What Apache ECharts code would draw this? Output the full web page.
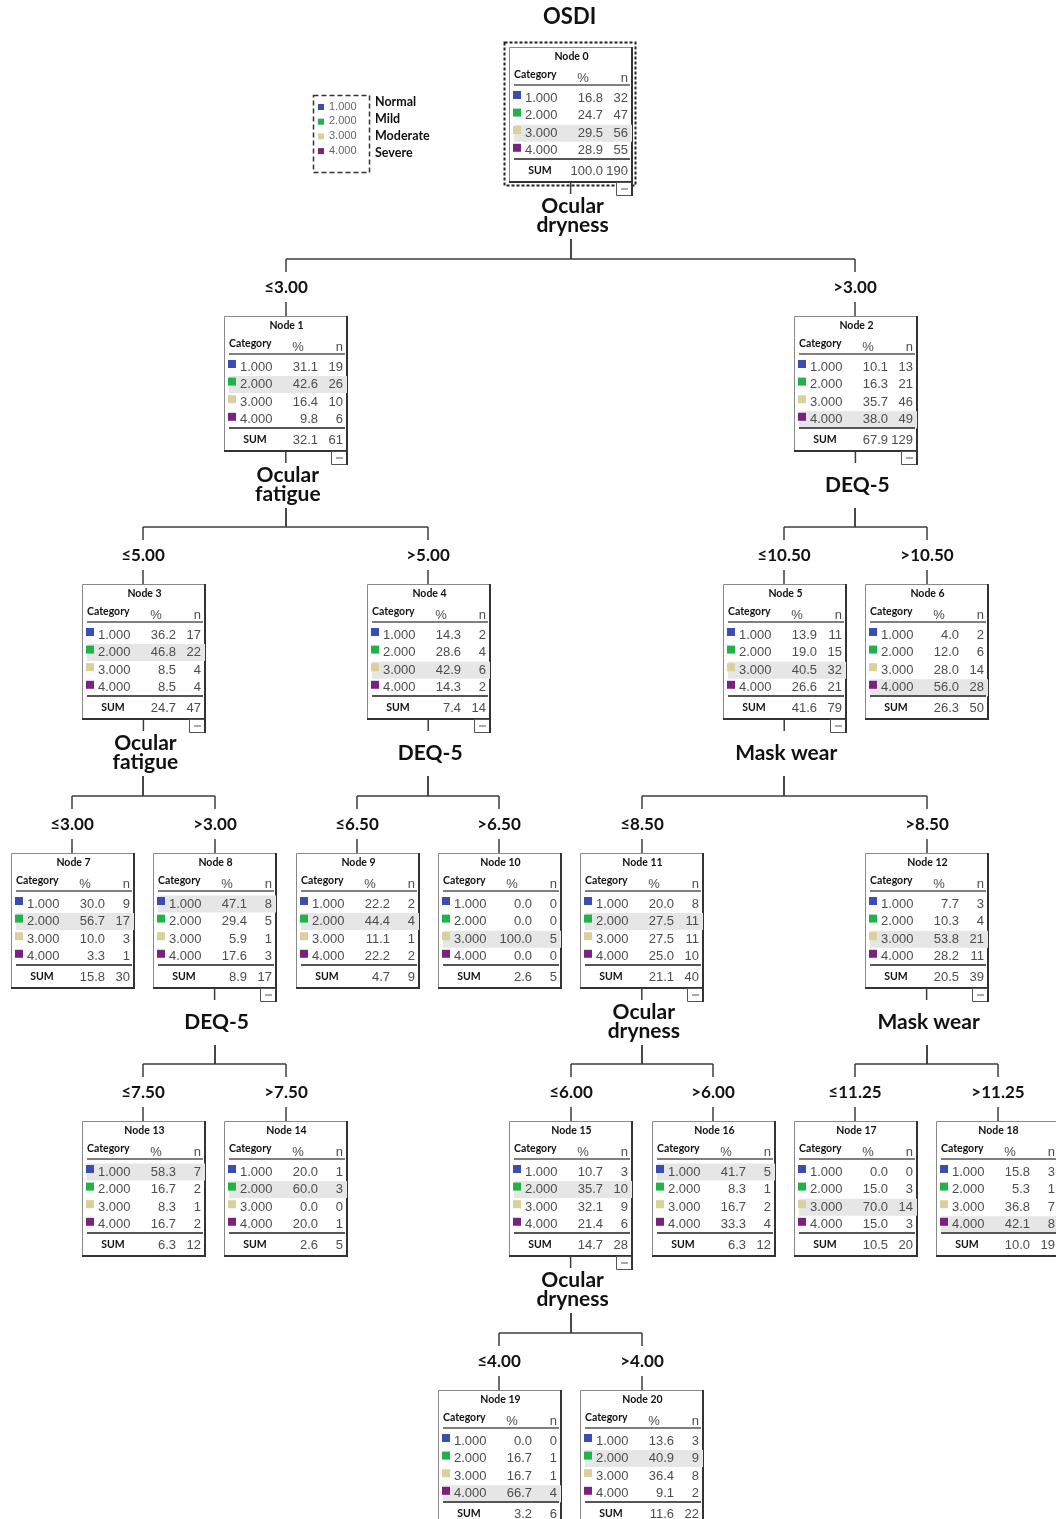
<!DOCTYPE html>
<html><head><meta charset="utf-8">
<script src="https://cdn.jsdelivr.net/npm/echarts@6/dist/echarts.min.js"></script>
<style>html,body{margin:0;padding:0;background:#fff}#chart{width:1056px;height:1519px}</style>
</head><body><div id="chart"></div>
<script>
// ---------------- DATA ----------------
const targetName = 'OSDI';
const categories = ['1.000', '2.000', '3.000', '4.000'];
const severityLabels = ['Normal', 'Mild', 'Moderate', 'Severe'];
const categoryColors = ['#3b4dae', '#22b24a', '#d8d19b', '#7a237e'];

const nodeIds = [0,1,2,3,4,5,6,7,8,9,10,11,12,13,14,15,16,17,18,19,20];
const nodeParent = [-1,0,0,1,1,2,2,3,3,4,4,5,5,8,8,11,11,12,12,15,15];
// tree layout: column slot and depth level of each node
const nodeSlot  = [8,4,12,2,6,11,13,1,3,5,7,9,13,2,4,8,10,12,14,7,9];
const nodeDepth = [0,1,1,2,2,2,2,3,3,3,3,3,3,4,4,4,4,4,4,5,5];
const nodeSplitVar = ['Ocular\ndryness','Ocular\nfatigue','DEQ-5','Ocular\nfatigue','DEQ-5','Mask wear','',
  '','DEQ-5','','','Ocular\ndryness','Mask wear','','','Ocular\ndryness','','','','',''];
const nodeThreshold = ['','≤3.00','>3.00','≤5.00','>5.00','≤10.50','>10.50','≤3.00','>3.00','≤6.50','>6.50',
  '≤8.50','>8.50','≤7.50','>7.50','≤6.00','>6.00','≤11.25','>11.25','≤4.00','>4.00'];
const nodePct = [
  [16.8,24.7,29.5,28.9],[31.1,42.6,16.4,9.8],[10.1,16.3,35.7,38.0],[36.2,46.8,8.5,8.5],
  [14.3,28.6,42.9,14.3],[13.9,19.0,40.5,26.6],[4.0,12.0,28.0,56.0],[30.0,56.7,10.0,3.3],
  [47.1,29.4,5.9,17.6],[22.2,44.4,11.1,22.2],[0.0,0.0,100.0,0.0],[20.0,27.5,27.5,25.0],
  [7.7,10.3,53.8,28.2],[58.3,16.7,8.3,16.7],[20.0,60.0,0.0,20.0],[10.7,35.7,32.1,21.4],
  [41.7,8.3,16.7,33.3],[0.0,15.0,70.0,15.0],[15.8,5.3,36.8,42.1],[0.0,16.7,16.7,66.7],
  [13.6,40.9,36.4,9.1]];
const nodeN = [
  [32,47,56,55],[19,26,10,6],[13,21,46,49],[17,22,4,4],[2,4,6,2],[11,15,32,21],[2,6,14,28],
  [9,17,3,1],[8,5,1,3],[2,4,1,2],[0,0,5,0],[8,11,11,10],[3,4,21,11],[7,2,1,2],[1,3,0,1],
  [3,10,9,6],[5,1,2,4],[0,3,14,3],[3,1,7,8],[0,1,1,4],[3,9,8,2]];
const nodeSumPct = [100.0,32.1,67.9,24.7,7.4,41.6,26.3,15.8,8.9,4.7,2.6,21.1,20.5,6.3,2.6,14.7,6.3,10.5,10.0,3.2,11.6];
const nodeSumN = [190,61,129,47,14,79,50,30,17,9,5,40,39,12,5,28,12,20,19,6,22];

// ---------------- STYLE ----------------
const LINE = '#3c3c3c';
const NUM_FONT = '13px "Liberation Sans", Arial, sans-serif';
const NUM_COLOR = '#4d4d4d';
const BOLD_SMALL = 'bold 10.5px Lato, "Open Sans", sans-serif';
const BOX_W = 123, BOX_H = 135;

function txt(text, x, y, font, fill, align, valign, extra) {
  const st = Object.assign({ text: text, x: x, y: y, font: font, fill: fill,
    align: align, verticalAlign: valign, textAlign: align, textVerticalAlign: valign }, extra || {});
  return { type: 'text', style: st, z2: 10 };
}
function ln(x1, y1, x2, y2, w, c) {
  return { type: 'line', shape: { x1: x1, y1: y1, x2: x2, y2: y2 }, style: { stroke: c || LINE, lineWidth: w || 1.5 } };
}
function fmt(v) { return v.toFixed(1); }

function hasChildren(i) { return nodeParent.indexOf(i) >= 0; }

function renderNode(params, api) {
  const i = api.value(2);
  const c = api.coord([api.value(0), api.value(1)]);
  const L = Math.round(c[0] - BOX_W / 2), T = Math.round(c[1]);
  const R = L + BOX_W, B = T + BOX_H;
  const ch = [];
  if (nodeParent[i] < 0) {
    ch.push({ type: 'rect', shape: { x: L - 4.5, y: T - 4.5, width: BOX_W + 8, height: BOX_H + 8 },
      style: { fill: null, stroke: '#222', lineWidth: 2, lineDash: [3, 2] } });
    ch.push(txt(targetName, c[0] - 1, T - 30, 'bold 22px Lato, "Open Sans", sans-serif', '#111', 'center', 'middle'));
  }
  ch.push({ type: 'rect', shape: { x: L + 0.5, y: T + 0.5, width: BOX_W, height: BOX_H },
    style: { fill: '#fff', stroke: '#8a8a8a', lineWidth: 1 } });
  ch.push(ln(R, T, R, B + 1, 2, '#333'));
  ch.push(ln(L, B, R + 1, B, 2, '#333'));
  // highlight modal row
  const n = nodeN[i];
  let hi = 0;
  for (let k = 1; k < n.length; k++) if (n[k] > n[hi]) hi = k;
  const rowY = k => T + 51 + k * 17.6;
  ch.push({ type: 'rect', shape: { x: L + 5, y: rowY(hi) - 8.5, width: BOX_W - 5, height: 17 },
    style: { fill: '#e6e6e6' } });
  // title & header
  ch.push(txt('Node ' + nodeIds[i], L + BOX_W / 2 + 1, T + 10, BOLD_SMALL, '#111', 'center', 'middle'));
  ch.push(txt('Category', L + 5, T + 28, BOLD_SMALL, '#111', 'left', 'middle'));
  ch.push(txt('%', L + 74, T + 31, NUM_FONT, NUM_COLOR, 'center', 'middle'));
  ch.push(txt('n', L + 119, T + 31, NUM_FONT, NUM_COLOR, 'right', 'middle'));
  ch.push(ln(L + 5, T + 38, R - 2, T + 38, 1.5, '#555'));
  for (let k = 0; k < categories.length; k++) {
    const y = rowY(k);
    ch.push({ type: 'rect', shape: { x: L + 4, y: y - 7, width: 8, height: 8 }, style: { fill: categoryColors[k] } });
    ch.push(txt(categories[k], L + 16, y, NUM_FONT, NUM_COLOR, 'left', 'middle'));
    ch.push(txt(fmt(nodePct[i][k]), L + 94, y, NUM_FONT, NUM_COLOR, 'right', 'middle'));
    ch.push(txt(String(n[k]), L + 119, y, NUM_FONT, NUM_COLOR, 'right', 'middle'));
  }
  ch.push(ln(L + 5, T + 112, R - 2, T + 112, 2, '#555'));
  ch.push(txt('SUM', L + 31, T + 124, BOLD_SMALL, '#111', 'center', 'middle'));
  ch.push(txt(fmt(nodeSumPct[i]), L + 94, T + 124, NUM_FONT, NUM_COLOR, 'right', 'middle'));
  ch.push(txt(String(nodeSumN[i]), L + 119, T + 124, NUM_FONT, NUM_COLOR, 'right', 'middle'));
  // split variable & collapse icon
  if (hasChildren(i)) {
    ch.push({ type: 'rect', shape: { x: R - 15.5, y: B + 0.5, width: 15, height: 13 },
      style: { fill: '#fff', stroke: '#555', lineWidth: 1 } });
    ch.push(ln(R, B, R, B + 14, 2, '#333'));
    ch.push(ln(R - 11, B + 7, R - 4, B + 7, 1, '#555'));
    ch.push(ln(c[0], B, c[0], B + 12));
    ch.push(txt(nodeSplitVar[i], c[0] + 2, T + 169, 'bold 21px Lato, "Open Sans", sans-serif', '#111', 'center', 'middle',
      { lineHeight: 19 }));
  }
  return { type: 'group', children: ch };
}

function renderEdge(params, api) {
  const c = api.coord([api.value(0), api.value(1)]);
  const p = api.coord([api.value(2), api.value(3)]);
  const i = api.value(4);
  const T = Math.round(c[1]);
  const P = Math.round(p[1]);
  const barY = T - 57;
  const cx = Math.round(c[0]), px = Math.round(p[0]);
  return { type: 'group', children: [
    ln(px, P + 192, px, barY),
    ln(px, barY, cx, barY),
    ln(cx, barY, cx, barY + 13),
    txt(nodeThreshold[i], cx, T - 28, 'bold 17px Lato, "Open Sans", sans-serif', '#111', 'center', 'middle'),
    ln(cx, T - 14, cx, T)
  ] };
}

const nodeData = nodeIds.map(i => [nodeSlot[i], nodeDepth[i], i]);
const edgeData = nodeIds.filter(i => nodeParent[i] >= 0)
  .map(i => [nodeSlot[i], nodeDepth[i], nodeSlot[nodeParent[i]], nodeDepth[nodeParent[i]], i]);

// legend graphic
const legendEls = [{ type: 'rect', left: 311, top: 93, shape: { width: 56, height: 77 },
  style: { fill: null, stroke: '#333', lineWidth: 1.5, lineDash: [5, 3] } }];
categories.forEach((cat, k) => {
  legendEls.push({ type: 'rect', left: 318, top: 104 + k * 14.7, shape: { width: 6, height: 6 },
    style: { fill: categoryColors[k] } });
  legendEls.push({ type: 'text', left: 329, top: 101 + k * 14.7,
    style: { text: cat, font: '11px "Liberation Sans", Arial, sans-serif', fill: '#666' } });
  legendEls.push({ type: 'text', left: 375, top: 95 + k * 17,
    style: { text: severityLabels[k], font: 'bold 12.5px Lato, "Open Sans", sans-serif', fill: '#111' } });
});

const chart = echarts.init(document.getElementById('chart'), null, { renderer: 'canvas' });
chart.setOption({
  backgroundColor: '#fff',
  animation: false,
  grid: { left: 1, right: 0, top: 0, bottom: 0 },
  xAxis: { type: 'value', min: 0, max: 14.817, show: false },
  yAxis: { type: 'value', inverse: true, min: -0.175, max: 5.482, show: false },
  graphic: { elements: legendEls },
  series: [
    { type: 'custom', name: 'edges', renderItem: renderEdge, data: edgeData,
      encode: { x: 0, y: 1 }, silent: true, z: 1 },
    { type: 'custom', name: 'nodes', renderItem: renderNode, data: nodeData,
      encode: { x: 0, y: 1 }, silent: true, z: 2 }
  ]
});
</script></body></html>
